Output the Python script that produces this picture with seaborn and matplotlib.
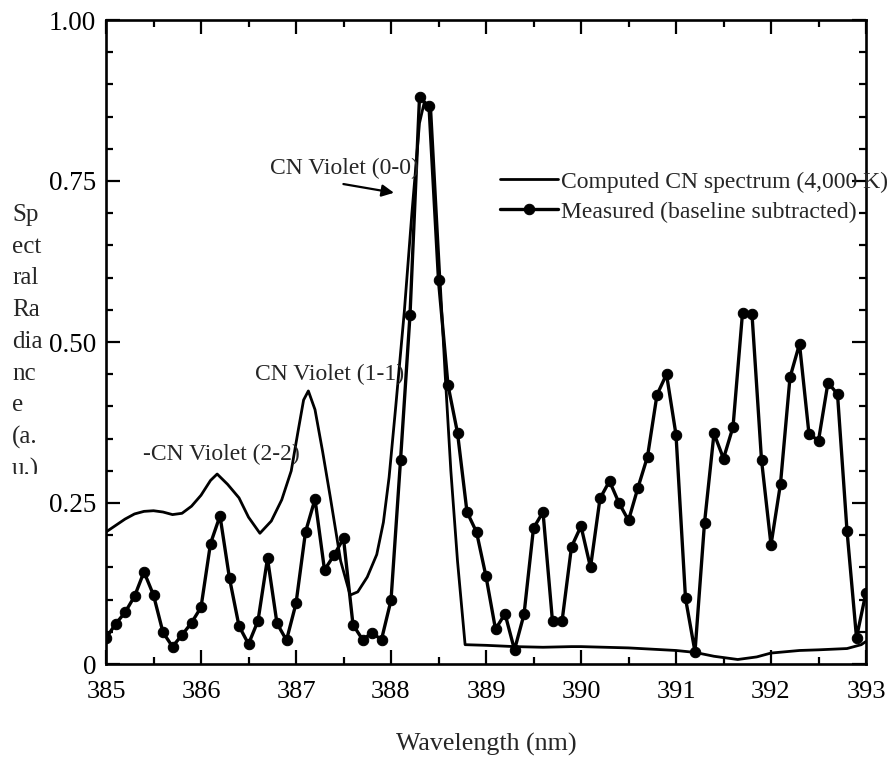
import matplotlib
matplotlib.use("Agg")
import matplotlib.pyplot as plt
import seaborn as sns
import numpy as np
import pandas as pd
from matplotlib.ticker import MultipleLocator
from matplotlib.transforms import Bbox

# ---- data ----
meas_wl = [385.0, 385.1, 385.2, 385.3, 385.4, 385.5, 385.6, 385.7, 385.8, 385.9,
           386.0, 386.1, 386.2, 386.3, 386.4, 386.5, 386.6, 386.7, 386.8, 386.9,
           387.0, 387.1, 387.2, 387.3, 387.4, 387.5, 387.6, 387.7, 387.8, 387.9,
           388.0, 388.1, 388.2, 388.3, 388.4, 388.5, 388.6, 388.7, 388.8, 388.9,
           389.0, 389.1, 389.2, 389.3, 389.4, 389.5, 389.6, 389.7, 389.8, 389.9,
           390.0, 390.1, 390.2, 390.3, 390.4, 390.5, 390.6, 390.7, 390.8, 390.9,
           391.0, 391.1, 391.2, 391.3, 391.4, 391.5, 391.6, 391.7, 391.8, 391.9,
           392.0, 392.1, 392.2, 392.3, 392.4, 392.5, 392.6, 392.7, 392.8, 392.9,
           393.0]
meas_val = [0.040, 0.062, 0.080, 0.105, 0.143, 0.107, 0.049, 0.027, 0.045, 0.064,
            0.088, 0.187, 0.230, 0.133, 0.059, 0.031, 0.067, 0.164, 0.063, 0.037,
            0.094, 0.205, 0.256, 0.146, 0.169, 0.195, 0.061, 0.038, 0.048, 0.038,
            0.099, 0.316, 0.542, 0.880, 0.866, 0.596, 0.433, 0.359, 0.236, 0.205,
            0.136, 0.054, 0.078, 0.022, 0.077, 0.211, 0.236, 0.066, 0.066, 0.182,
            0.214, 0.150, 0.257, 0.284, 0.250, 0.223, 0.274, 0.322, 0.418, 0.450,
            0.356, 0.102, 0.019, 0.219, 0.358, 0.319, 0.368, 0.545, 0.543, 0.317,
            0.185, 0.280, 0.445, 0.497, 0.357, 0.347, 0.437, 0.419, 0.207, 0.041,
            0.111]

comp_wl = [385.00, 385.10, 385.20, 385.30, 385.40, 385.50, 385.60, 385.70, 385.80, 385.90,
           386.00, 386.10, 386.17, 386.28, 386.40, 386.50, 386.62, 386.74, 386.85, 386.95,
           387.02, 387.08, 387.13, 387.20, 387.28, 387.36, 387.47, 387.57, 387.65, 387.75,
           387.85, 387.92, 387.98, 388.05, 388.14, 388.22, 388.30, 388.35, 388.42, 388.50,
           388.57, 388.63, 388.70, 388.78, 389.00, 389.30, 389.60, 389.90, 390.00, 390.50,
           391.00, 391.20, 391.40, 391.65, 391.85, 392.00, 392.30, 392.50, 392.80, 392.95,
           393.00]
comp_val = [0.205, 0.215, 0.225, 0.233, 0.237, 0.238, 0.236, 0.232, 0.234, 0.245,
            0.262, 0.285, 0.295, 0.279, 0.258, 0.228, 0.203, 0.222, 0.255, 0.300,
            0.360, 0.410, 0.424, 0.395, 0.330, 0.260, 0.160, 0.107, 0.112, 0.135,
            0.170, 0.220, 0.290, 0.400, 0.547, 0.700, 0.840, 0.872, 0.860, 0.640,
            0.450, 0.300, 0.160, 0.030, 0.029, 0.027, 0.026, 0.027, 0.027, 0.025,
            0.021, 0.018, 0.012, 0.007, 0.011, 0.017, 0.021, 0.022, 0.024, 0.030,
            0.035]

y_ticks = [0, 0.25, 0.50, 0.75, 1.00]
y_tick_labels = ["0", "0.25", "0.50", "0.75", "1.00"]
x_ticks = [385, 386, 387, 388, 389, 390, 391, 392, 393]
x_tick_labels = ["385", "386", "387", "388", "389", "390", "391", "392", "393"]
legend_labels = ["Computed CN spectrum (4,000 K)", "Measured (baseline subtracted)"]
ylabel_lines = ["Sp", "ect", "ral", "Ra", "dia", "nc", "e", "(a.", "u.)"]

# ---- style ----
sns.set_style("ticks")
plt.rcParams['font.family'] = ['Liberation Serif', 'DejaVu Serif']

W, H = 891, 759
fig = plt.figure(figsize=(W / 100, H / 100), dpi=100)
ax = fig.add_axes([106 / W, 1 - 664 / H, (866 - 106) / W, (664 - 20) / H])

comp_df = pd.DataFrame({"wl": comp_wl, "val": comp_val})
meas_df = pd.DataFrame({"wl": meas_wl, "val": meas_val})

sns.lineplot(data=comp_df, x="wl", y="val", ax=ax, color="black", linewidth=2.0,
             estimator=None, sort=False, label=legend_labels[0])
sns.lineplot(data=meas_df, x="wl", y="val", ax=ax, color="black", linewidth=2.4,
             marker="o", markersize=7.5, markeredgecolor="black",
             estimator=None, sort=False, label=legend_labels[1])

ax.set_xlim(385, 393)
ax.set_ylim(0, 1.0)
ax.set_xticks(x_ticks)
ax.set_xticklabels(x_tick_labels)
ax.set_yticks(y_ticks)
ax.set_yticklabels(y_tick_labels)
ax.xaxis.set_minor_locator(MultipleLocator(0.5))
ax.yaxis.set_minor_locator(MultipleLocator(0.05))
ax.tick_params(which="both", direction="in", top=True, right=True, width=1.6,
               colors="black")
ax.tick_params(which="major", length=10)
ax.tick_params(which="minor", length=5)
ax.tick_params(axis="x", pad=12, labelsize=19)
ax.tick_params(axis="y", pad=7, labelsize=19.5)
for s in ax.spines.values():
    s.set_linewidth(1.9)
    s.set_color("black")

ax.set_xlabel("Wavelength (nm)", fontsize=18.7, labelpad=22)
ax.set_ylabel("")

# vertical wrapped y label (as in the reference, the last line is cut)
ylab_y = [215, 247, 278, 310, 342, 374, 405, 437, 469]
for txt, yp in zip(ylabel_lines, ylab_y):
    t = fig.text(12 / W, 1 - yp / H, txt, fontsize=18, ha="left", va="center")
    if txt == "u.)":
        t.set_clip_box(Bbox.from_extents(0, H - 474, 200, H))
        t.set_clip_on(True)

# annotations
ax.text(386.73, 0.770, "CN Violet (0-0)", fontsize=17, ha="left", va="center")
ax.annotate("", xy=(388.06, 0.731), xytext=(387.47, 0.746),
            arrowprops=dict(arrowstyle="-|>", color="black", lw=1.6,
                            mutation_scale=18))
ax.text(386.57, 0.450, "CN Violet (1-1)", fontsize=17, ha="left", va="center")
ax.text(385.39, 0.325, "-CN Violet (2-2)", fontsize=17, ha="left", va="center")

leg = ax.legend(loc="upper left", bbox_to_anchor=(500 / W, 1 - 171 / H),
                bbox_transform=fig.transFigure, frameon=False, fontsize=17,
                handlelength=2.45, handletextpad=0.15, labelspacing=0.36,
                borderpad=0, borderaxespad=0)

fig.savefig("out.png", dpi=100, facecolor="white")
